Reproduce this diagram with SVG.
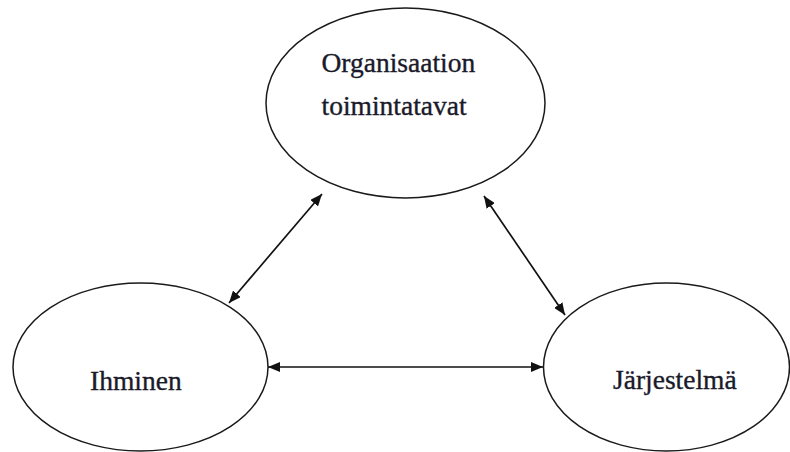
<svg xmlns="http://www.w3.org/2000/svg" width="790" height="452" viewBox="0 0 790 452">
  <style>
    .node { fill: #ffffff; stroke: #1a1a1a; stroke-width: 1.5; }
    .label { font-family: "Liberation Serif", "Times New Roman", serif; font-size: 27.5px; fill: #1a1a2a; stroke: #1a1a2a; stroke-width: 0.35; }
    .link { stroke: #111111; stroke-width: 1.7; fill: none; marker-start: url(#head); marker-end: url(#head); }
  </style>
  <defs>
    <!-- solid triangular arrowhead, used at both ends of every link -->
    <marker id="head" viewBox="0 0 12 10" refX="12" refY="5" markerWidth="12" markerHeight="10" markerUnits="userSpaceOnUse" orient="auto-start-reverse">
      <path d="M0,0 L12,5 L0,10 Z" fill="#111111"/>
    </marker>
  </defs>
  <rect width="790" height="452" fill="#ffffff"/>

  <g id="node-organisaatio">
    <ellipse class="node" cx="405.5" cy="103" rx="139.5" ry="95"/>
    <text class="label" x="321.5" y="72">Organisaation</text>
    <text class="label" x="321.5" y="115">toimintatavat</text>
  </g>

  <g id="node-ihminen">
    <ellipse class="node" cx="140.5" cy="367" rx="127.5" ry="84"/>
    <text class="label" x="90" y="390">Ihminen</text>
  </g>

  <g id="node-jarjestelma">
    <ellipse class="node" cx="666.5" cy="367" rx="123" ry="84"/>
    <text class="label" x="613" y="389">Järjestelmä</text>
  </g>

  <g id="connectors">
    <line class="link" x1="322" y1="194" x2="229" y2="303"/>
    <line class="link" x1="484" y1="196" x2="565" y2="315"/>
    <line class="link" x1="268" y1="367" x2="543" y2="367"/>
  </g>
</svg>
